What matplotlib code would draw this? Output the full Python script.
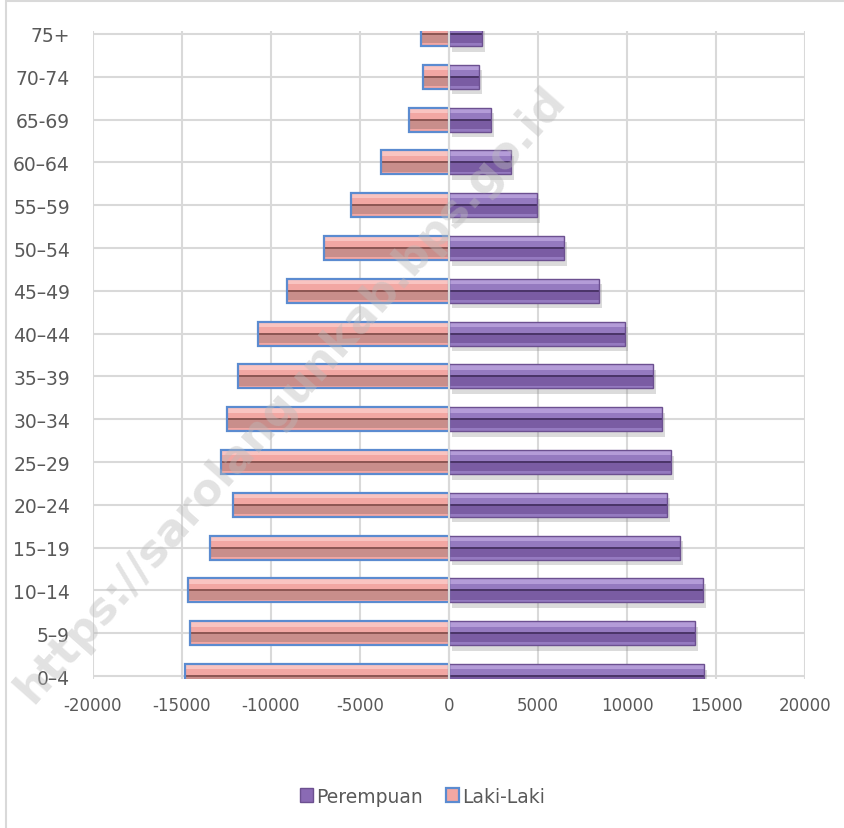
import matplotlib.pyplot as plt
import matplotlib.patheffects as pe
from matplotlib.patches import Rectangle
import numpy as np

# Age groups, youngest first
age_groups = ['0–4', '5–9', '10–14', '15–19', '20–24', '25–29', '30–34',
              '35–39', '40–44', '45–49', '50–54', '55–59', '60–64',
              '65-69', '70-74', '75+']

# Male counts (drawn to the left as negatives)
laki_laki = [-14830, -14550, -14660, -13430, -12130, -12810, -12470,
             -11850, -10730, -9100, -7020, -5500, -3820, -2250, -1460, -1570]

# Female counts
perempuan = [14330, 13820, 14270, 12980, 12250, 12470, 11970,
             11460, 9890, 8430, 6460, 4940, 3480, 2360, 1690, 1850]

x_ticks = [-20000, -15000, -10000, -5000, 0, 5000, 10000, 15000, 20000]


def bevel_bar(ax, y, values, top, face, dark, ridge, edge, edge_w,
              shadow=False):
    h = 0.56
    base = ax.barh(y, values, height=h, color=face, linewidth=0, zorder=3)
    if shadow:
        for p in base:
            p.set_path_effects([pe.SimplePatchShadow(offset=(2, -4),
                                                     shadow_rgbFace='#888888',
                                                     alpha=0.3), pe.Normal()])
    # light upper bevel, darker lower half, dark ridge through the middle
    ax.barh(y + h * 0.38, values, height=h * 0.2, color=top,
            linewidth=0, zorder=4)
    ax.barh(y - h * 0.2, values, height=h * 0.36, color=dark,
            linewidth=0, zorder=4)
    ax.barh(y, values, height=h * 0.08, color=ridge, linewidth=0, zorder=5)
    ax.barh(y, values, height=h, color='none', edgecolor=edge,
            linewidth=edge_w, zorder=6)


fig = plt.figure(figsize=(8.45, 8.29), dpi=100)
ax = fig.add_axes([0.110, 0.1797, 0.8427, 0.7817])

y = np.arange(len(age_groups))
bevel_bar(ax, y, laki_laki, '#F9C4C1', '#F2A7A3', '#C98E8B', '#8E5754',
          '#5B8BD0', 1.6)
bevel_bar(ax, y, perempuan, '#B49CD8', '#957AC0', '#7A5CA3', '#4B3569',
          '#6C5090', 1.0, shadow=True)

ax.set_xlim(-20000, 20000)
ax.set_ylim(-0.07, 15.07)
ax.set_xticks(x_ticks)
ax.set_xticklabels([str(v) for v in x_ticks])
ax.set_yticks(y)
ax.set_yticklabels(age_groups)
ax.grid(True, color='#D9D9D9', linewidth=1.5, zorder=0)
ax.set_axisbelow(True)
for s in ax.spines.values():
    s.set_visible(False)
ax.axvline(0, color='#D9D9D9', linewidth=1.5, zorder=7)
ax.tick_params(axis='both', length=0, labelcolor='#595959')
ax.tick_params(axis='y', pad=16.5, labelsize=13.5)
ax.tick_params(axis='x', pad=12, labelsize=12)

# legend
h_p = Rectangle((0, 0), 1, 1, facecolor='#8A6AB4', edgecolor='#6C5090')
h_l = Rectangle((0, 0), 1, 1, facecolor='#F2A7A3', edgecolor='#5B8BD0',
                linewidth=1.6)
fig.legend([h_p, h_l], ['Perempuan', 'Laki-Laki'], loc='center',
           bbox_to_anchor=(0.5, 0.0386), ncol=2, frameon=False,
           fontsize=13.5, labelcolor='#595959', handlelength=0.7,
           handleheight=0.7, handletextpad=0.2, columnspacing=1.2)

# chart area frame
fig.add_artist(Rectangle((0.0071, -0.1), 1.2, 1.097, transform=fig.transFigure,
                         facecolor='none', edgecolor='#D9D9D9', linewidth=1.5))

# watermark
fig.text(0.343, 0.524, 'https://sarolangunkab.bps.go.id', fontsize=32,
         fontweight='bold', color='#BBBBBB', alpha=0.42, rotation=48.5,
         ha='center', va='center', zorder=10)

fig.savefig('out.png', dpi=100)
